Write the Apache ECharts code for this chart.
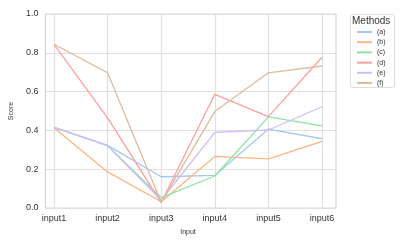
<!DOCTYPE html>
<html><head><meta charset="utf-8">
<script src="https://cdn.jsdelivr.net/npm/echarts@6/dist/echarts.min.js"></script>
<style>html,body{margin:0;padding:0;background:#fff}#c{width:407px;height:244px}</style>
</head><body><div id="c"></div>
<script>
var categories = ['input1','input2','input3','input4','input5','input6'];
var methodNames = ['(a)','(b)','(c)','(d)','(e)','(f)'];
var valuesA = [0.416, 0.323, 0.161, 0.168, 0.407, 0.357];
var valuesB = [0.414, 0.186, 0.032, 0.266, 0.253, 0.344];
var valuesC = [0.416, 0.321, 0.053, 0.165, 0.470, 0.423];
var valuesD = [0.844, 0.465, 0.028, 0.586, 0.471, 0.777];
var valuesE = [0.416, 0.321, 0.040, 0.390, 0.402, 0.522];
var valuesF = [0.844, 0.697, 0.030, 0.497, 0.697, 0.732];
var yTicks = [0, 0.2, 0.4, 0.6, 0.8, 1.0];
var colors = ['#a1c9f4','#ffb482','#8de5a1','#ff9f9b','#d0bbff','#debb9b'];
var allValues = [valuesA, valuesB, valuesC, valuesD, valuesE, valuesF];
var font = 'Liberation Sans, Arial, sans-serif';
var chart = echarts.init(document.getElementById('c'));
var series = methodNames.map(function(n, i){
  return {name:n, type:'line', xAxisIndex:1, yAxisIndex:1, data:allValues[i],
    symbol:'none', lineStyle:{width:1.3, color:colors[i]}, itemStyle:{color:colors[i]}};
});
chart.setOption({
  animation:false,
  title:{text:'Methods', left:352, top:16, padding:0, textStyle:{fontSize:10, fontWeight:'normal', color:'#333', fontFamily:font}},
  legend:{orient:'vertical', left:357, top:28.5, padding:0, itemWidth:15, itemHeight:2, itemGap:3.2, icon:'rect',
    textStyle:{fontSize:7, color:'#333', fontFamily:font, padding:[0,0,0,0]}, data:methodNames},
  graphic:[{type:'rect', shape:{x:350.5, y:14.5, width:44, height:73, r:2}, style:{fill:'none', stroke:'#dddddd', lineWidth:1}}],
  grid:[
    {left:40, right:71, top:14, bottom:36, show:true, borderColor:'#d6d6d6', borderWidth:1.2},
    {left:54, right:85, top:14, bottom:36}
  ],
  xAxis:[
    {gridIndex:0, type:'value', min:0, max:1, show:false},
    {gridIndex:1, type:'category', data:categories, boundaryGap:false,
      axisLine:{show:false}, axisTick:{show:false},
      axisLabel:{fontSize:9, color:'#333', fontFamily:font, margin:6},
      splitLine:{show:true, lineStyle:{color:'#e0e0e0', width:1.2}},
      name:'Input', nameLocation:'middle', nameGap:21, nameTextStyle:{fontSize:7, color:'#333', fontFamily:font}}
  ],
  yAxis:[
    {gridIndex:0, type:'value', min:0, max:1, interval:0.2,
      axisLine:{show:false}, axisTick:{show:false},
      axisLabel:{fontSize:9, color:'#333', fontFamily:font, margin:7, formatter:function(v){return v.toFixed(1);}},
      splitLine:{show:true, lineStyle:{color:'#e0e0e0', width:1.2}},
      name:'Score', nameLocation:'middle', nameGap:26, nameTextStyle:{fontSize:7, color:'#333', fontFamily:font}},
    {gridIndex:1, type:'value', min:0, max:1, show:false}
  ],
  series:series
});
</script></body></html>
